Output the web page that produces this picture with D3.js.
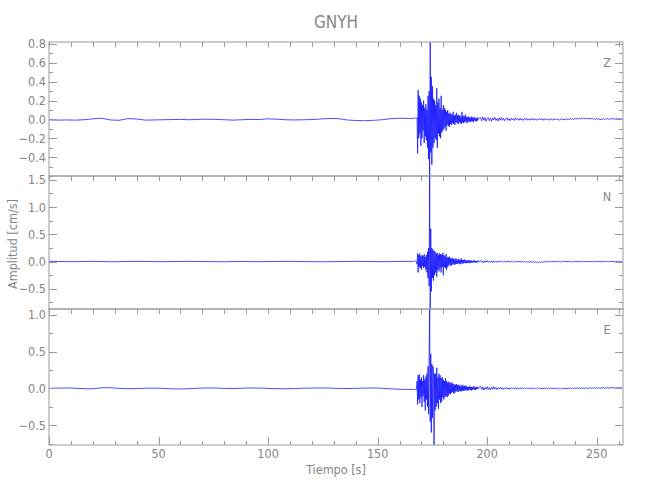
<!DOCTYPE html>
<html><head><meta charset="utf-8">
<script src="https://cdn.jsdelivr.net/npm/d3@7"></script>
<style>
body{margin:0;background:#fff;}
text{font-family:"Liberation Sans Narrow","DejaVu Sans Condensed","Liberation Sans",sans-serif;fill:#858585;}
</style></head>
<body><svg id="c" width="650" height="500"></svg>
<script>
const title = "GNYH";
const components = ["Z","N","E"];
const xLabel = "Tiempo [s]";
const yLabel = "Amplitud [cm/s]";
const xTickValues = [0,50,100,150,200,250];
const xDomain = [0, 262];
const yTickMajor = [[0.8,0.6,0.4,0.2,0.0,-0.2,-0.4],[1.5,1.0,0.5,0.0,-0.5],[1.0,0.5,0.0,-0.5]];
const yTickMinorStep = [0.1, 0.25, 0.25];

// sampling of each trace segment (seconds)
const quietStart = 0, quietStep = 4;
const burstStart = 166, burstStep = 0.25;
const tailStart = 197, tailStep = 0.5;

// ---- Z component ----
const zQuiet = [-0.005,-0.008,-0.006,-0.008,-0.004,0.006,0.012,-0.006,-0.01,0.008,0.004,-0.008,-0.006,-0.004,-0.002,0.0,-0.004,0.0,0.002,0.0,-0.004,-0.008,-0.004,0.0,-0.002,0.006,0.002,-0.004,-0.006,-0.004,-0.002,0.004,0.01,0.008,-0.006,-0.012,-0.014,-0.01,-0.004,0.008,0.012,0.01];
const zBurst = [0.01,0.012,0.01,0.012,0.01,0.014,0.012,0.01,
 0.02,-0.36,0.31,-0.2,0.25,-0.15,0.22,-0.28,
 0.18,-0.2,0.15,-0.12,0.2,-0.25,0.12,-0.18,
 0.16,-0.22,0.1,-0.3,0.25,-0.42,0.3,-0.6,
 0.82,-0.35,0.45,-0.48,0.35,-0.3,0.22,-0.25,
 0.2,-0.2,0.15,-0.22,0.33,-0.3,0.18,-0.15,
 0.22,-0.18,0.12,-0.2,0.25,-0.14,0.1,-0.12,
 0.15,-0.1,0.12,-0.08,0.1,-0.12,0.08,-0.06,
 0.1,-0.07,0.06,-0.08,0.07,-0.05,0.06,-0.06,
 0.05,-0.04,0.08,-0.05,0.04,-0.06,0.05,-0.03,
 0.07,-0.04,0.04,-0.05,0.05,-0.03,0.04,-0.04,
 0.03,-0.05,0.08,-0.03,0.04,-0.04,0.03,-0.03,
 0.05,-0.02,0.03,-0.04,0.02,-0.03,0.03,-0.02,
 0.02,-0.03,0.02,-0.02,0.03,-0.02,0.02,-0.03,
 0.02,-0.01,0.02,-0.02,0.01,-0.02,0.02,-0.01,
 0.01];
const zTail = [0.02,-0.015,0.025,-0.01,0.018,-0.022,0.01,0.02,-0.015,0.012,
 -0.02,0.015,-0.005,0.022,-0.012,0.008,-0.018,0.015,-0.008,0.02,
 -0.01,0.012,-0.015,0.005,0.018,-0.01,0.008,-0.014,0.012,-0.006,
 0.01,-0.012,0.015,-0.004,0.008,-0.01,0.012,-0.008,0.006,-0.012,
 0.01,-0.004,0.012,-0.008,0.004,-0.01,0.008,-0.006,0.01,-0.008,
 0.006,-0.01,0.004,-0.006,0.01,-0.004,0.008,-0.01,0.006,-0.004,
 0.008,-0.008,0.004,-0.01,0.006,0.0,-0.008,0.006,-0.004,0.008,
 -0.006,0.004,-0.01,0.002,0.006,-0.008,0.004,-0.006,0.008,-0.002,
 0.006,-0.006,0.01,0.0,0.008,-0.002,0.012,0.004,0.01,0.002,
 0.014,0.004,0.012,0.006,0.016,0.004,0.01,0.008,0.014,0.002,
 0.01,0.006,0.012,0.0,0.008,-0.004,0.006,0.002,0.008,-0.006,
 0.004,0.0,0.008,-0.004,0.006,0.002,0.01,-0.002,0.006,0.004,
 0.01,0.0,0.008,0.004,0.012,0.002,0.006,0.008,0.004,0.006];

// ---- N component ----
const nQuiet = [0.004,0.002,0.0,-0.002,0.002,0.004,0.0,-0.004,-0.002,0.002,0.004,0.002,0.0,-0.002,0.0,0.002,0.004,0.002,0.0,-0.002,-0.004,0.0,0.002,0.0,-0.002,0.0,0.002,0.004,0.002,0.0,-0.002,-0.004,-0.002,0.0,0.002,0.004,0.002,0.0,-0.002,0.0,0.002,0.004];
const nBurst = [0.0,0.005,0.0,0.005,0.005,0.01,0.005,0.0,
 -0.05,0.15,-0.2,0.12,-0.1,0.15,-0.12,0.1,
 -0.15,0.12,-0.08,0.1,-0.12,0.14,-0.1,0.08,
 -0.15,0.12,-0.2,0.18,-0.3,0.25,-0.45,1.57,
 -0.87,0.6,-0.55,0.25,-0.3,0.22,-0.35,0.2,
 -0.25,0.18,-0.2,0.15,-0.28,0.16,-0.15,0.12,
 -0.18,0.15,-0.12,0.14,-0.2,0.12,-0.1,0.16,
 -0.25,0.12,-0.1,0.1,-0.12,0.14,-0.15,0.08,
 -0.1,0.08,-0.07,0.09,-0.06,0.06,-0.08,0.05,
 -0.06,0.07,-0.04,0.05,-0.06,0.04,-0.05,0.06,
 -0.04,0.03,-0.04,0.05,-0.03,0.04,-0.05,0.03,
 -0.04,0.06,-0.03,0.03,-0.04,0.03,-0.02,0.04,
 -0.03,0.02,-0.03,0.02,-0.02,0.03,-0.02,0.02,
 -0.03,0.02,-0.02,0.02,-0.02,0.01,-0.02,0.02,
 -0.01,0.02,-0.02,0.01,-0.02,0.01,-0.01,0.02,
 -0.01];
const nTail = [0.02,-0.018,0.012,-0.022,0.015,-0.01,0.018,-0.015,0.008,-0.012,
 0.015,-0.02,0.01,-0.008,0.012,-0.015,0.006,-0.01,0.014,-0.008,
 0.01,-0.012,0.004,-0.01,0.012,-0.006,0.008,-0.012,0.006,-0.004,
 0.008,-0.01,0.004,-0.008,0.01,-0.006,0.004,-0.012,0.006,-0.008,
 0.002,-0.01,0.006,-0.014,0.0,-0.012,0.004,-0.016,-0.004,-0.02,
 -0.002,-0.018,-0.006,-0.022,-0.008,-0.016,-0.002,-0.014,0.002,-0.01,
 0.004,-0.008,0.006,-0.006,0.008,-0.004,0.004,-0.008,0.006,-0.002,
 0.008,-0.006,0.004,-0.008,0.006,-0.004,0.008,-0.002,0.004,-0.006,
 0.006,-0.004,0.008,-0.006,0.002,-0.008,0.006,-0.002,0.004,-0.006,
 0.006,-0.004,0.002,-0.006,0.004,-0.002,0.006,-0.004,0.002,-0.006,
 0.004,-0.002,0.006,-0.004,0.002,-0.006,0.004,0.0,0.006,-0.004,
 0.002,-0.006,0.004,-0.002,0.006,-0.004,0.002,-0.004,0.004,-0.002,
 0.006,-0.002,0.002,-0.006,0.004,-0.002,0.004,-0.004,0.002,0.0];

// ---- E component ----
const eQuiet = [0.0,0.004,0.006,0.002,-0.004,-0.006,0.008,0.01,0.0,-0.004,-0.002,0.002,0.004,0.0,-0.006,-0.008,-0.004,0.002,0.006,0.004,0.0,-0.002,0.002,0.006,0.004,0.0,-0.004,-0.006,-0.002,0.002,0.004,0.006,0.004,0.0,-0.002,0.0,0.004,0.006,0.002,-0.006,-0.012,-0.014];
const eBurst = [-0.015,-0.015,-0.016,-0.015,-0.014,-0.016,-0.015,-0.015,
 0.1,-0.22,0.18,-0.15,0.19,-0.2,0.12,-0.12,
 0.15,-0.25,0.1,-0.1,0.18,-0.18,0.12,-0.3,
 0.16,-0.15,0.2,-0.25,0.3,-0.35,0.45,1.08,
 -0.45,0.47,-0.6,0.33,-0.4,0.3,0.25,-0.77,
 0.2,-0.3,0.2,-0.25,0.28,-0.2,0.15,-0.28,
 0.2,-0.15,0.18,-0.2,0.14,-0.18,0.15,-0.12,
 0.12,-0.15,0.1,-0.12,0.14,-0.1,0.1,-0.12,
 0.08,-0.1,0.09,-0.07,0.08,-0.08,0.07,-0.06,
 0.08,-0.05,0.06,-0.07,0.05,-0.06,0.05,-0.04,
 0.06,-0.04,0.04,-0.05,0.05,-0.03,0.04,-0.04,
 0.03,-0.04,0.05,-0.03,0.04,-0.03,0.03,-0.03,
 0.04,-0.02,0.03,-0.03,0.02,-0.03,0.02,-0.02,
 0.03,-0.02,0.02,-0.03,0.02,-0.02,0.02,-0.01,
 0.03,-0.02,0.01,-0.02,0.02,-0.01,0.02,-0.01,
 0.01];
const eTail = [0.03,-0.015,0.02,-0.025,0.015,-0.01,0.022,-0.018,0.012,-0.02,
 0.018,-0.012,0.025,-0.01,0.012,-0.016,0.01,-0.008,0.015,-0.012,
 0.01,-0.014,0.008,-0.006,0.012,-0.01,0.006,-0.012,0.01,-0.004,
 0.008,-0.01,0.012,-0.006,0.004,-0.01,0.008,-0.004,0.01,-0.008,
 0.006,-0.006,0.01,-0.004,0.004,-0.008,0.008,-0.002,0.006,-0.008,
 0.004,-0.006,0.008,-0.004,0.006,-0.008,0.002,-0.006,0.008,-0.004,
 0.006,-0.008,0.004,-0.002,0.008,-0.006,0.004,-0.004,0.006,-0.008,
 0.004,-0.006,0.002,-0.008,0.006,-0.004,0.004,-0.006,0.002,-0.004,
 0.006,-0.002,0.004,-0.006,0.008,0.0,0.006,-0.002,0.008,0.0,
 0.006,-0.002,0.008,0.002,0.006,-0.004,0.008,0.0,0.006,0.002,
 0.01,0.0,0.006,0.004,0.008,0.002,0.01,0.004,0.008,0.002,
 0.008,0.004,0.01,0.002,0.008,0.006,0.012,0.004,0.01,0.006,
 0.012,0.004,0.008,0.006,0.01,0.004,0.012,0.006,0.008,0.008];

const traceSegments = [[zQuiet,zBurst,zTail],[nQuiet,nBurst,nTail],[eQuiet,eBurst,eTail]];
const segStarts = [quietStart, burstStart, tailStart];
const segSteps = [quietStep, burstStep, tailStep];

function buildTrace(segs){
  const pts = [];
  segs.forEach((vals, k) => vals.forEach((v, i) => pts.push([segStarts[k] + i*segSteps[k], v])));
  return pts;
}

const svg = d3.select("#c");
const left = 49, right = 623;
const panelTops = [42, 176, 309];
const panelBottoms = [176, 309, 445];
const axisColor = "#9a9a9a";

const x = d3.scaleLinear().domain(xDomain).range([left, right]);

svg.append("text").attr("x", (left+right)/2).attr("y", 28).attr("text-anchor","middle")
  .attr("font-size", 17).text(title);

components.forEach((comp, p) => {
  const data = buildTrace(traceSegments[p]);
  const ext = d3.extent(data, d => d[1]);
  const y = d3.scaleLinear().domain(ext).range([panelBottoms[p], panelTops[p]]);
  const g = svg.append("g");
  const clipId = "clip" + p;
  g.append("clipPath").attr("id", clipId).append("rect")
    .attr("x", left).attr("y", panelTops[p]).attr("width", right-left).attr("height", panelBottoms[p]-panelTops[p]);

  // trace
  g.append("path").datum(data)
    .attr("clip-path", `url(#${clipId})`)
    .attr("fill","none").attr("stroke","#0000ff").attr("stroke-width",0.7)
    .attr("d", d3.line().x(d => x(d[0])).y(d => y(d[1])));

  // frame
  g.append("rect").attr("x", left).attr("y", panelTops[p]).attr("width", right-left)
    .attr("height", panelBottoms[p]-panelTops[p]).attr("fill","none").attr("stroke", axisColor).attr("stroke-width",1);

  // y ticks (left and right)
  const minorStep = yTickMinorStep[p];
  const lo = Math.ceil(ext[0]/minorStep - 1e-9), hi = Math.floor(ext[1]/minorStep + 1e-9);
  const majors = yTickMajor[p];
  for (let k = lo; k <= hi; k++) {
    const v = k*minorStep;
    const isMajor = majors.some(m => Math.abs(m - v) < 1e-6);
    const len = isMajor ? 8 : 4;
    const yy = Math.round(y(v)) + 0.5;
    g.append("line").attr("x1", left).attr("x2", left+len).attr("y1", yy).attr("y2", yy).attr("stroke", axisColor);
    g.append("line").attr("x1", right).attr("x2", right-len).attr("y1", yy).attr("y2", yy).attr("stroke", axisColor);
  }
  majors.forEach(m => {
    g.append("text").attr("x", left-3).attr("y", y(m)+4.5).attr("text-anchor","end")
      .attr("font-size", 12.5).text((m < 0 ? "\u2212" : "") + Math.abs(m).toFixed(1));
  });

  // x ticks: top of every panel, bottom of last panel
  const xt = d3.range(0, xDomain[1]+0.001, 10);
  xt.forEach(v => {
    const xx = Math.round(x(v)) + 0.5;
    g.append("line").attr("x1", xx).attr("x2", xx).attr("y1", panelTops[p]).attr("y2", panelTops[p]+5).attr("stroke", axisColor);
    if (p === components.length-1) {
      const len = (v % 50 === 0) ? 8 : 4;
      g.append("line").attr("x1", xx).attr("x2", xx).attr("y1", panelBottoms[p]).attr("y2", panelBottoms[p]-len).attr("stroke", axisColor);
    }
  });

  g.append("text").attr("x", 607).attr("y", panelTops[p] + 25).attr("text-anchor","middle")
    .attr("font-size", 12.5).text(comp);
});

xTickValues.forEach(v => {
  svg.append("text").attr("x", x(v)).attr("y", 458).attr("text-anchor","middle").attr("font-size", 12.5).text(v);
});
svg.append("text").attr("x", (left+right)/2).attr("y", 474).attr("text-anchor","middle").attr("font-size", 12.5).text(xLabel);
svg.append("text").attr("transform", "translate(17,244) rotate(-90)").attr("text-anchor","middle").attr("font-size", 12.5).text(yLabel);
</script>
</body></html>
